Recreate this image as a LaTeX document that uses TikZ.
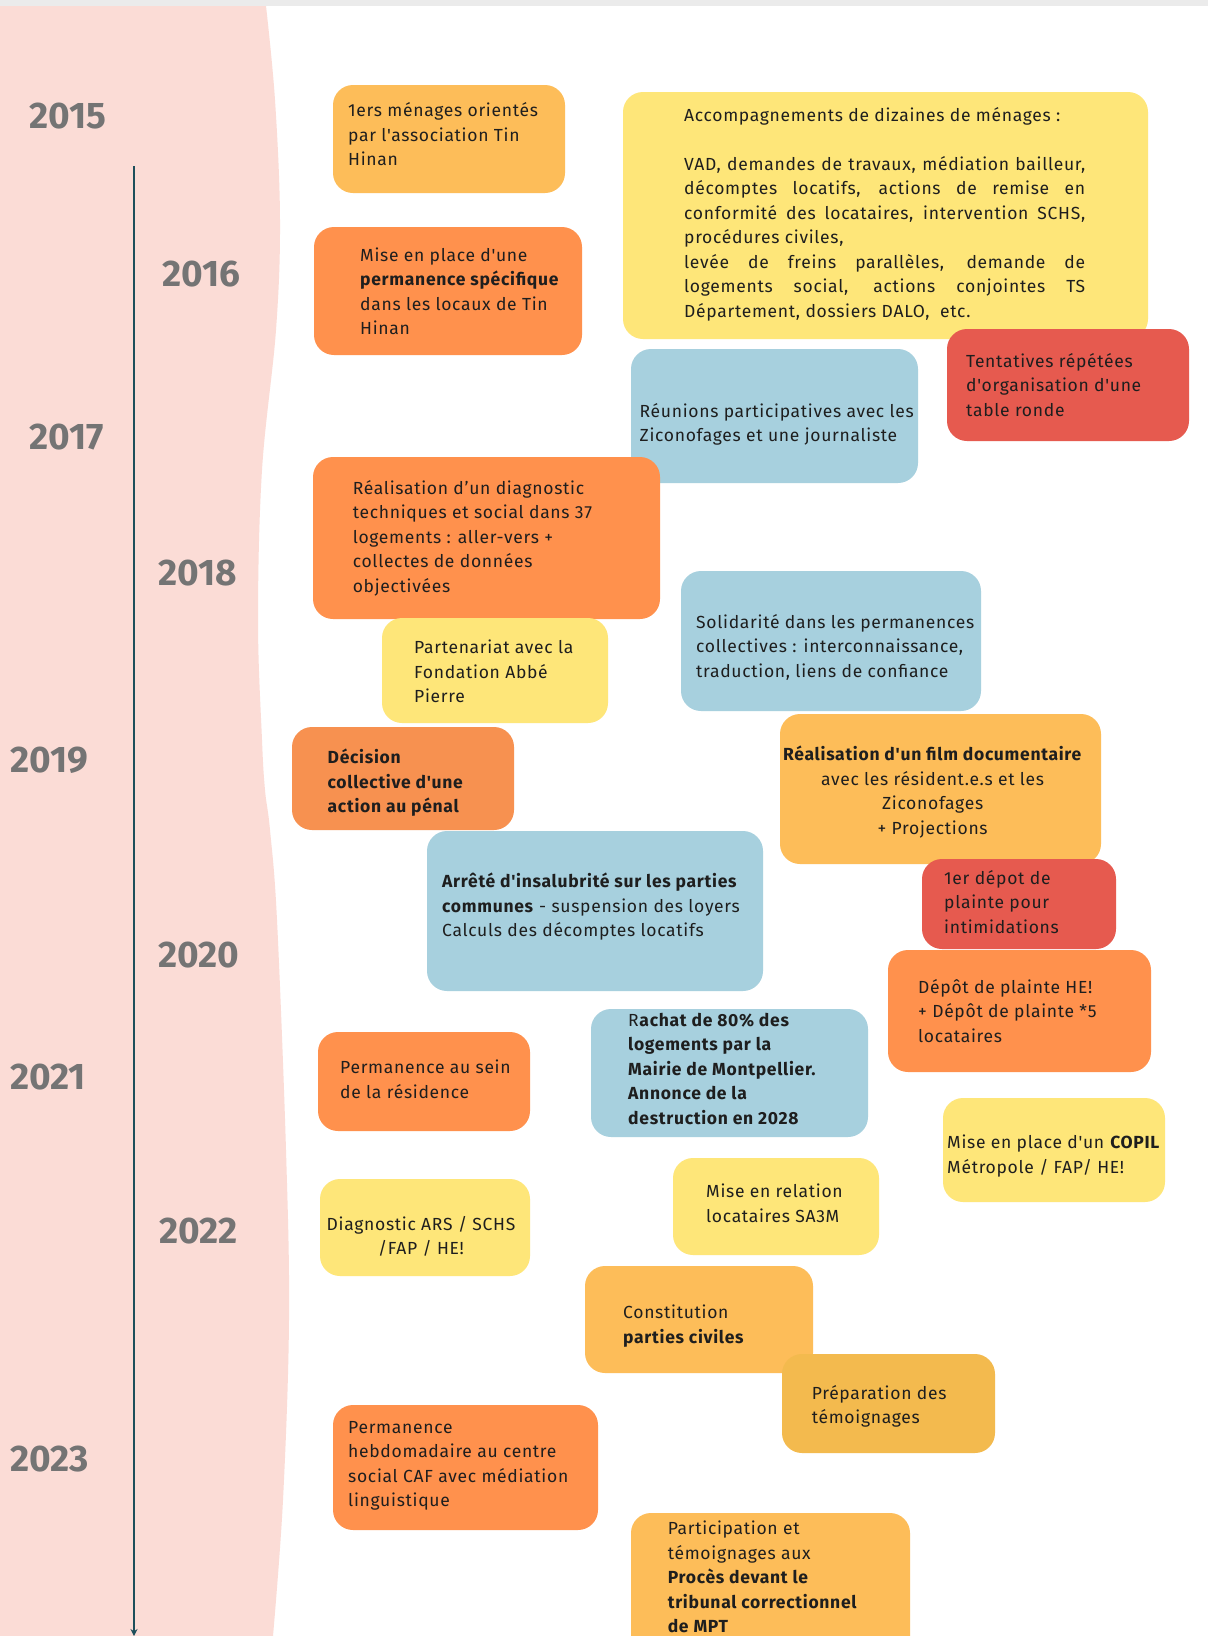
\documentclass[tikz,border=0pt]{standalone}
\usepackage{fontspec}
\setmainfont{Fira Sans}[Ligatures=TeXOff]
\newfontfamily\evfont{Fira Sans}[Ligatures=TeXOff,LetterSpace=4]
\usetikzlibrary{arrows.meta}

\definecolor{pinkbg}{HTML}{FBDCD6}
\definecolor{topgrey}{HTML}{EBEBEB}
\definecolor{tline}{HTML}{1D4F5B}
\definecolor{yeargrey}{HTML}{747474}
\definecolor{ink}{HTML}{1E1E1E}
\definecolor{lorange}{HTML}{FDBD59}
\definecolor{orange}{HTML}{FF914D}
\definecolor{dorange}{HTML}{F79150}
\definecolor{yellow}{HTML}{FEE679}
\definecolor{blue}{HTML}{A7D0DE}
\definecolor{red}{HTML}{E65A4F}
\definecolor{gold}{HTML}{F3BA4E}

\tikzset{
  evbox/.style={shape=rectangle,rounded corners=20pt,inner sep=0pt},
  evtext/.style={inner sep=0pt,anchor=north west,align=left,text=ink,font=\evfont\fontsize{17.5}{24.5}\selectfont},
  evtextc/.style={evtext,anchor=north,align=center},
  year/.style={inner sep=0pt,anchor=west,text=yeargrey,font=\fontsize{37}{40}\selectfont\bfseries}
}

\begin{document}
\begin{tikzpicture}[x=1pt,y=-1pt]
            \clip (0,0) rectangle (1208,1636);
            \fill[white] (0,0) rectangle (1208,1636);
            % pink band and top bar
            \fill[pinkbg] (0,6) -- plot[smooth,tension=0.6] coordinates {(266,6) (275,100) (280,220) (276,330) (262,470) (258,620) (262,740) (265,790) (270,830) (277,920) (286,1150) (289,1320) (283,1500) (273,1636)} -- (0,1636) -- cycle;
            \fill[topgrey] (0,0) rectangle (1208,6);

            % timeline
            \coordinate (tl0) at (134,166);
            \coordinate (tl1) at (134,1636);
            \draw[tline,line width=2pt,-{Stealth[length=7pt,width=7pt]}](tl0)--(tl1);

            \node[year](y15)at(29,116){2015};
            \node[year](y16)at(162,274.5){2016};
            \node[year](y17)at(29,437){2017};
            \node[year](y18)at(158,573){2018};
            \node[year](y19)at(10,760){2019};
            \node[year](y20)at(158,955){2020};
            \node[year](y21)at(10,1077){2021};
            \node[year](y22)at(159,1231){2022};
            \node[year](y23)at(10,1459){2023};

            % event boxes
            \node[evbox,fill=lorange,minimum width=232,minimum height=108](b1)at(449,139){};
            \node[evtext](t1)at(348,102.5){1ers ménages orientés\\par l'association Tin\\Hinan};

            \node[evbox,fill=orange,minimum width=268,minimum height=128](b2)at(448,291){};
            \node[evtext](t2)at(360,247.5){Mise en place d'une\\\textbf{permanence spécifique}\\dans les locaux de Tin\\Hinan};

            \node[evbox,fill=yellow,minimum width=525,minimum height=247](b3)at(885.5,215.5){};
            \node[evtext,text width=401,align=justify](t3)at(684,107){Accompagnements de dizaines de ménages :\\[24.5pt]
              VAD, demandes de travaux, médiation bailleur,\linebreak décomptes locatifs, actions de remise en\linebreak conformité des locataires, intervention SCHS,\linebreak procédures civiles,\\
              levée de freins parallèles, demande de\linebreak logements social, actions conjointes TS\linebreak Département, dossiers DALO,~ etc.};

            \node[evbox,fill=blue,minimum width=287,minimum height=134](b4)at(774.5,416){};
            \node[evtext](t4)at(639.5,403){Réunions participatives avec les\\Ziconofages et une journaliste};

            \node[evbox,fill=red,minimum width=242,minimum height=112](b5)at(1068,385){};
            \node[evtext](t5)at(966,353){Tentatives répétées\\d'organisation d'une\\table ronde};

            \node[evbox,fill=orange,minimum width=347,minimum height=162](b6)at(486.5,538){};
            \node[evtext](t6)at(352.6,480){Réalisation d’un diagnostic\\techniques et social dans 37\\logements : aller-vers +\\collectes de données\\objectivées};

            \node[evbox,fill=yellow,minimum width=226,minimum height=105](b7)at(495,670.5){};
            \node[evtext](t7)at(414,640){Partenariat avec la\\Fondation Abbé\\Pierre};

            \node[evbox,fill=blue,minimum width=300,minimum height=140](b8)at(831,641){};
            \node[evtext](t8)at(696,614){Solidarité dans les permanences\\collectives : interconnaissance,\\traduction, liens de confiance};

            \node[evbox,fill=dorange,minimum width=222,minimum height=103](b9)at(403,778.5){};
            \node[evtext,font=\evfont\fontsize{17.5}{24.5}\selectfont\bfseries](t9)at(327.5,749){Décision\\collective d'une\\action au pénal};

            \node[evbox,fill=lorange,minimum width=321,minimum height=150](b10)at(940.5,789){};
            \node[evtextc](t10)at(932.6,746){\textbf{Réalisation d'un film documentaire}\\avec les résident.e.s et les\\Ziconofages\\+ Projections};

            \node[evbox,fill=blue,minimum width=336,minimum height=160](b11)at(595,911){};
            \node[evtext](t11)at(442,873){\textbf{Arrêté d'insalubrité sur les parties}\\\textbf{communes} - suspension des loyers\\Calculs des décomptes locatifs};

            \node[evbox,fill=red,minimum width=194,minimum height=90](b12)at(1019,904){};
            \node[evtext](t12)at(944,870){1er dépot de\\plainte pour\\intimidations};

            \node[evbox,fill=orange,minimum width=263,minimum height=122](b13)at(1019.5,1011){};
            \node[evtext](t13)at(918,979){Dépôt de plainte HE!\\+ Dépôt de plainte *5\\locataires};

            \node[evbox,fill=blue,minimum width=277,minimum height=128](b14)at(729.5,1073){};
            \node[evtext](t14)at(628,1013){R\textbf{achat de 80\% des}\\\textbf{logements par la}\\\textbf{Mairie de Montpellier.}\\\textbf{Annonce de la}\\\textbf{destruction en 2028}};

            \node[evbox,fill=orange,minimum width=212,minimum height=99](b15)at(424,1081.5){};
            \node[evtext](t15)at(340,1060){Permanence au sein\\de la résidence};

            \node[evbox,fill=yellow,minimum width=222,minimum height=104](b16)at(1054,1150){};
            \node[evtext](t16)at(947,1135){Mise en place d'un \textbf{COPIL}\\Métropole / FAP/ HE!};

            \node[evbox,fill=yellow,minimum width=210,minimum height=97](b17)at(425,1227.5){};
            \node[evtextc](t17)at(421,1216){Diagnostic ARS / SCHS\\/FAP / HE!};

            \node[evbox,fill=yellow,minimum width=206,minimum height=97](b18)at(776,1206.5){};
            \node[evtext](t18)at(706,1184){Mise en relation\\locataires SA3M};

            \node[evbox,fill=lorange,minimum width=228,minimum height=107](b19)at(699,1319.5){};
            \node[evtext](t19)at(623,1305){Constitution\\\textbf{parties civiles}};

            \node[evbox,fill=gold,minimum width=213,minimum height=99](b20)at(888.5,1403.5){};
            \node[evtext](t20)at(811.6,1385){Préparation des\\témoignages};

            \node[evbox,fill=orange,minimum width=265,minimum height=125](b21)at(465.5,1467.5){};
            \node[evtext](t21)at(348,1421){Permanence\\hebdomadaire au centre\\social CAF avec médiation\\linguistique};

            \node[evbox,fill=lorange,minimum width=279,minimum height=147](b22)at(770.5,1586.5){};
            \node[evtext](t22)at(667.6,1521){Participation et\\témoignages aux\\\textbf{Procès devant le}\\\textbf{tribunal correctionnel}\\\textbf{de MPT}};
\end{tikzpicture}
\end{document}
